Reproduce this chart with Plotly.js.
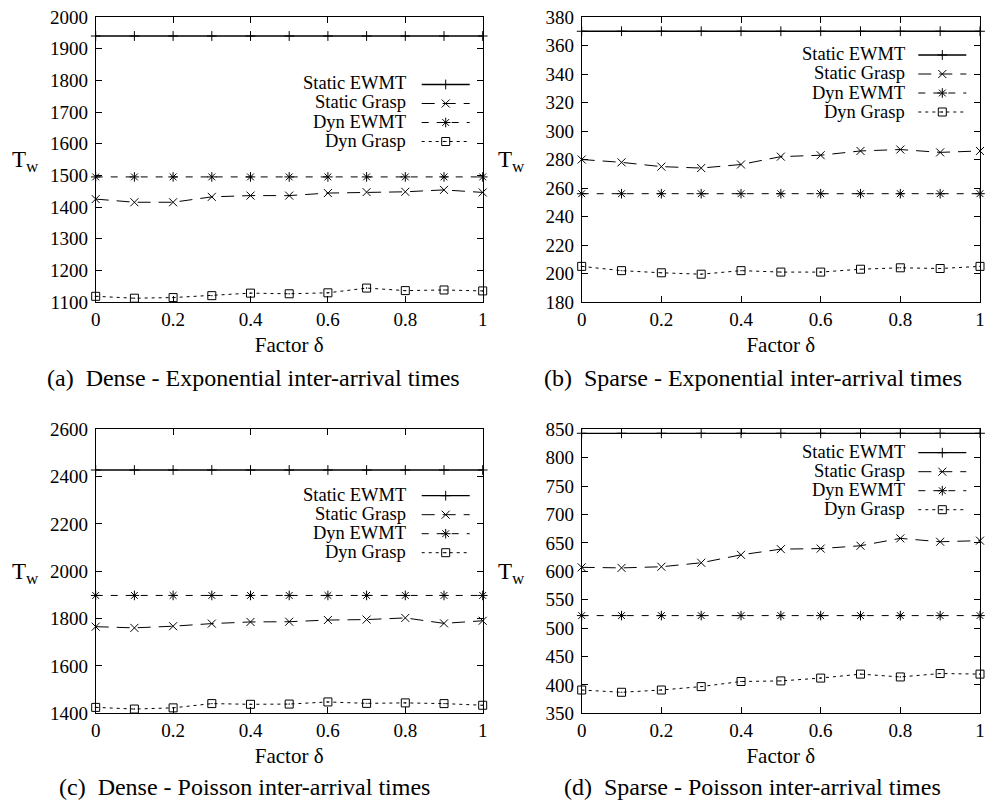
<!DOCTYPE html>
<html>
<head>
<meta charset="utf-8">
<script src="https://cdn.plot.ly/plotly-3.0.1.min.js"></script>
<style>html,body{margin:0;padding:0;background:#fff}#chart{width:995px;height:802px}</style>
</head>
<body>
<div id="chart"></div>
<script>
// ---- data ----
const delta = [0, 0.1, 0.2, 0.3, 0.4, 0.5, 0.6, 0.7, 0.8, 0.9, 1];
const seriesNames = ["Static EWMT", "Static Grasp", "Dyn EWMT", "Dyn Grasp"];
const xTickVals = [0, 0.2, 0.4, 0.6, 0.8, 1];
const xTickText = ["0", "0.2", "0.4", "0.6", "0.8", "1"];

// (a) Dense - Exponential
const staticEWMT_a = [1940, 1940, 1940, 1940, 1940, 1940, 1940, 1940, 1940, 1940, 1940];
const staticGrasp_a = [1425, 1415, 1415, 1432, 1436, 1436, 1444, 1447, 1448, 1454, 1446];
const dynEWMT_a = [1495, 1495, 1495, 1495, 1495, 1495, 1495, 1495, 1495, 1495, 1495];
const dynGrasp_a = [1118, 1112, 1114, 1120, 1128, 1126, 1129, 1144, 1136, 1138, 1135];
// (b) Sparse - Exponential
const staticEWMT_b = [370, 370, 370, 370, 370, 370, 370, 370, 370, 370, 370];
const staticGrasp_b = [280, 278, 275, 274, 276.5, 282, 283, 286, 287, 285, 286];
const dynEWMT_b = [256, 256, 256, 256, 256, 256, 256, 256, 256, 256, 256];
const dynGrasp_b = [205, 202, 200.5, 199.5, 202, 201, 201, 203, 204, 203.5, 205];
// (c) Dense - Poisson
const staticEWMT_c = [2428, 2428, 2428, 2428, 2428, 2428, 2428, 2428, 2428, 2428, 2428];
const staticGrasp_c = [1766, 1761, 1768, 1779, 1786, 1787, 1794, 1796, 1803, 1780, 1791];
const dynEWMT_c = [1898, 1898, 1898, 1898, 1898, 1898, 1898, 1898, 1898, 1898, 1898];
const dynGrasp_c = [1425, 1418, 1423, 1441, 1438, 1439, 1448, 1442, 1444, 1441, 1434];
// (d) Sparse - Poisson
const staticEWMT_d = [843, 843, 843, 843, 843, 843, 843, 843, 843, 843, 843];
const staticGrasp_d = [607, 606, 608, 615, 629, 639, 640, 645, 658, 652, 654];
const dynEWMT_d = [522, 522, 522, 522, 522, 522, 522, 522, 522, 522, 522];
const dynGrasp_d = [391, 387, 391, 397, 406, 407, 412, 419, 414, 420, 419];

const yRange_a = [1100, 2000], yStep_a = 100;
const yRange_b = [180, 380], yStep_b = 20;
const yRange_c = [1400, 2600], yStep_c = 200;
const yRange_d = [350, 850], yStep_d = 50;

const captions = [
  "(a)\u00a0 Dense - Exponential inter-arrival times",
  "(b)\u00a0 Sparse - Exponential inter-arrival times",
  "(c)\u00a0 Dense - Poisson inter-arrival times",
  "(d)\u00a0 Sparse - Poisson inter-arrival times"
];

// ---- layout geometry (pixels) ----
const W = 995, H = 802;
const FONT = "Liberation Serif";
const px = v => v / W;
const py = v => 1 - v / H;

const panels = [
  {x0: 95.7, x1: 482.7, y0: 17, y1: 302, data: [staticEWMT_a, staticGrasp_a, dynEWMT_a, dynGrasp_a], range: yRange_a, step: yStep_a,
   legX: 416.7, legY: 70, legTextX: 408, rows: [84.3, 103.3, 122.7, 141.7], capX: 254, capY: 378},
  {x0: 581.7, x1: 980, y0: 17, y1: 302, data: [staticEWMT_b, staticGrasp_b, dynEWMT_b, dynGrasp_b], range: yRange_b, step: yStep_b,
   legX: 913.3, legY: 40.5, legTextX: 907, rows: [55, 74.3, 93.7, 113], capX: 752.5, capY: 378},
  {x0: 95.7, x1: 482.7, y0: 429.3, y1: 713.3, data: [staticEWMT_c, staticGrasp_c, dynEWMT_c, dynGrasp_c], range: yRange_c, step: yStep_c,
   legX: 416.7, legY: 481.2, legTextX: 408, rows: [495.7, 515, 534.3, 553.3], capX: 244, capY: 787},
  {x0: 581.7, x1: 980, y0: 429.3, y1: 713.3, data: [staticEWMT_d, staticGrasp_d, dynEWMT_d, dynGrasp_d], range: yRange_d, step: yStep_d,
   legX: 913.3, legY: 438.2, legTextX: 907, rows: [452.7, 471.7, 490.7, 510], capX: 752, capY: 787}
];

const styles = [
  {symbol: "cross-thin", size: 7, dash: "solid", width: 1.3},
  {symbol: "x-thin", size: 8, dash: "13px,8px", width: 1},
  {symbol: "asterisk", size: 8, dash: "7px,8px", width: 1},
  {symbol: "square-open-dot", size: 8, dash: "3px,4px", width: 1}
];

const traces = [];
const layout = {
  width: W, height: H, autosize: false,
  margin: {l: 0, r: 0, t: 0, b: 0, pad: 0},
  paper_bgcolor: "#ffffff", plot_bgcolor: "#ffffff",
  font: {family: FONT, color: "#000000", size: 19},
  annotations: [], hovermode: "closest"
};

panels.forEach((p, i) => {
  const n = i === 0 ? "" : String(i + 1);
  const legName = "legend" + n;
  p.data.forEach((ys, k) => {
    const s = styles[k];
    traces.push({
      type: "scatter", mode: "lines+markers",
      x: delta, y: ys, name: "\u00a0", hovertext: seriesNames[k], hoverinfo: "text+x+y",
      xaxis: "x" + n, yaxis: "y" + n, legend: legName,
      cliponaxis: false,
      line: {color: "#000000", width: s.width, dash: s.dash},
      marker: {symbol: s.symbol, size: s.size, color: "#000000", line: {color: "#000000", width: 1}}
    });
  });
  const common = {
    showline: true, linecolor: "#000000", linewidth: 1, mirror: "ticks",
    ticks: "inside", ticklen: 6, tickwidth: 1, tickcolor: "#000000",
    showgrid: false, zeroline: false, fixedrange: true,
    tickfont: {family: FONT, size: 19, color: "#000000"}
  };
  layout["xaxis" + n] = Object.assign({}, common, {
    domain: [px(p.x0), px(p.x1)], anchor: "y" + n, range: [0, 1],
    tickmode: "array", tickvals: xTickVals, ticktext: xTickText,
    title: {text: "Factor δ", font: {family: FONT, size: 21, color: "#000000"}, standoff: 8}
  });
  layout["yaxis" + n] = Object.assign({}, common, {
    domain: [py(p.y1), py(p.y0)], anchor: "x" + n, range: p.range,
    tickmode: "linear", tick0: p.range[0], dtick: p.step, ticklabelstandoff: 3
  });
  layout[legName] = {
    x: px(p.legX), y: py(p.legY), xanchor: "left", yanchor: "top",
    xref: "paper", yref: "paper",
    bgcolor: "rgba(0,0,0,0)", borderwidth: 0, itemwidth: 48, tracegroupgap: 0,
    font: {family: FONT, size: 12, color: "#000000"}, itemclick: false, itemdoubleclick: false
  };
  seriesNames.forEach((nm, k) => {
    layout.annotations.push({
      xref: "paper", yref: "paper", x: px(p.legTextX), y: py(p.rows[k] - 1),
      xanchor: "right", yanchor: "middle", showarrow: false, text: nm,
      font: {family: FONT, size: 18.5, color: "#000000"}
    });
  });
  const midY = (p.y0 + p.y1) / 2;
  layout.annotations.push({
    xref: "paper", yref: "paper", x: px(p.x0 - 68), y: py(midY),
    xanchor: "right", yanchor: "middle", showarrow: false, text: "T",
    font: {family: FONT, size: 23, color: "#000000"}
  });
  layout.annotations.push({
    xref: "paper", yref: "paper", x: px(p.x0 - 72), y: py(midY + 7),
    xanchor: "left", yanchor: "middle", showarrow: false, text: "w",
    font: {family: FONT, size: 17, color: "#000000"}
  });
  layout.annotations.push({
    xref: "paper", yref: "paper", x: px(p.capX), y: py(p.capY),
    xanchor: "center", yanchor: "middle", showarrow: false, text: captions[i],
    font: {family: FONT, size: 24, color: "#000000"}
  });
});

Plotly.newPlot("chart", traces, layout, {displayModeBar: false, staticPlot: false, responsive: false});
</script>
</body>
</html>
